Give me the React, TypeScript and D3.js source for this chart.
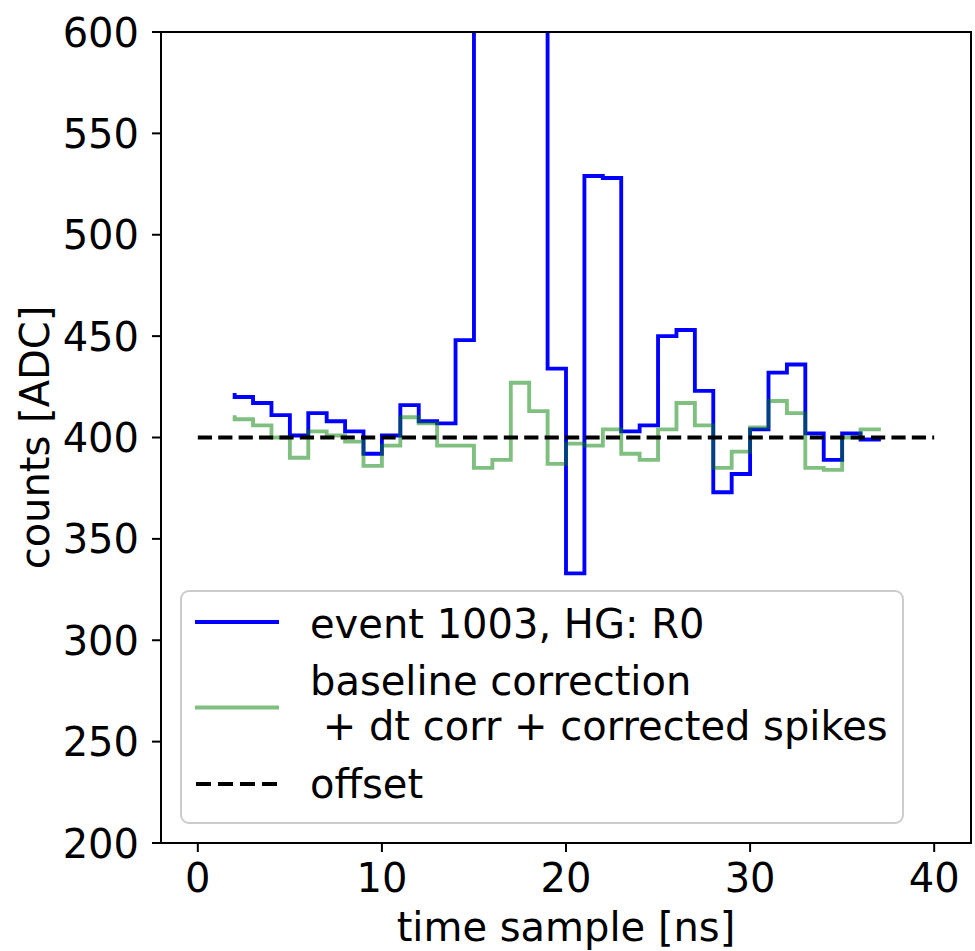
import React from "react";
import * as d3 from "d3";

// ---- data ----
const timeSamples = [2,3,4,5,6,7,8,9,10,11,12,13,14,15,16,17,18,19,20,21,22,23,24,25,26,27,28,29,30,31,32,33,34,35,36,37];
const rawCounts = [421,420,417,411,401,412,408,403,392,401,416,408,407,448,700,760,740,680,434,333,529,528,403,406,450,453,423,373,382,404,432,436,402,389,402,399];
const correctedCounts = [410,409,406,400,390,403,401,398,386,396,410,407,396,396,385,389,427,413,387,397,396,404,392,389,404,417,406,385,393,405,418,412,385,384,400,404];
const offsetX = [0, 40];
const offsetY = [400, 400];
const xTicks = [0, 10, 20, 30, 40];
const yTicks = [200, 250, 300, 350, 400, 450, 500, 550, 600];
const legendLabels = ["event 1003, HG: R0", ["baseline correction", " + dt corr + corrected spikes"], "offset"];

const W = 975, H = 951;
const L = 161, R = 971, T = 32, B = 843;
const FONT = "DejaVu Sans, sans-serif";
const FS = 40;

export default function App() {
  const x = d3.scaleLinear().domain([-2, 42]).range([L, R]);
  const y = d3.scaleLinear().domain([200, 600]).range([B, T]);
  const stepLine = d3.line<[number, number]>().x(d => x(d[0])).y(d => y(d[1])).curve(d3.curveStepBefore);
  const straight = d3.line<[number, number]>().x(d => x(d[0])).y(d => y(d[1]));
  const rawPts = timeSamples.map((t, i) => [t, rawCounts[i]] as [number, number]);
  const corrPts = timeSamples.map((t, i) => [t, correctedCounts[i]] as [number, number]);
  const offPts = offsetX.map((t, i) => [t, offsetY[i]] as [number, number]);
  const lw = 3.85;
  const dash = "14.2,6.2";

  return (
    <svg width={W} height={H} style={{ position: "absolute", left: 0, top: 0, background: "#fff" }} fontFamily={FONT}>
      <defs>
        <clipPath id="plotclip">
          <rect x={L} y={T} width={R - L} height={B - T} />
        </clipPath>
      </defs>
      <rect x={0} y={0} width={W} height={H} fill="#fff" />
      <g clipPath="url(#plotclip)">
        <path d={stepLine(rawPts) || ""} fill="none" stroke="#0000ff" strokeWidth={lw} strokeLinejoin="miter" strokeLinecap="square" />
        <path d={stepLine(corrPts) || ""} fill="none" stroke="#008000" strokeOpacity={0.5} strokeWidth={lw} strokeLinecap="square" />
        <path d={straight(offPts) || ""} fill="none" stroke="#000" strokeWidth={lw} strokeDasharray={dash} />
      </g>
      {/* spines */}
      <rect x={L} y={T} width={R - L} height={B - T} fill="none" stroke="#000" strokeWidth={2} />
      {/* y ticks */}
      {yTicks.map(v => (
        <g key={"y" + v}>
          <line x1={L - 9} x2={L} y1={y(v)} y2={y(v)} stroke="#000" strokeWidth={2} />
          <text x={L - 22} y={y(v) + 14.6} textAnchor="end" fontSize={FS} fill="#000">{v}</text>
        </g>
      ))}
      {/* x ticks */}
      {xTicks.map(v => (
        <g key={"x" + v}>
          <line x1={x(v)} x2={x(v)} y1={B} y2={B + 9} stroke="#000" strokeWidth={2} />
          <text x={x(v)} y={892} textAnchor="middle" fontSize={FS} fill="#000">{v}</text>
        </g>
      ))}
      <text x={(L + R) / 2} y={941} textAnchor="middle" fontSize={FS} fill="#000">time sample [ns]</text>
      <text transform={`translate(49,${(T + B) / 2}) rotate(-90)`} textAnchor="middle" fontSize={FS} fill="#000">counts [ADC]</text>
      {/* legend */}
      <g>
        <rect x={181} y={591} width={722} height={232} rx={8} ry={8} fill="#fff" fillOpacity={0.8} stroke="#cccccc" strokeWidth={2} />
        <line x1={195} x2={279} y1={622} y2={622} stroke="#0000ff" strokeWidth={lw} />
        <text x={310} y={638} fontSize={FS} fill="#000">{legendLabels[0] as string}</text>
        <line x1={195} x2={279} y1={707.5} y2={707.5} stroke="#008000" strokeOpacity={0.5} strokeWidth={lw} />
        <text x={310} y={695} fontSize={FS} fill="#000" style={{ whiteSpace: "pre" }}>{(legendLabels[1] as string[])[0]}</text>
        <text x={310} y={740} fontSize={FS} fill="#000" style={{ whiteSpace: "pre" }} xmlSpace="preserve">{(legendLabels[1] as string[])[1]}</text>
        <line x1={196} x2={277} y1={784} y2={784} stroke="#000" strokeWidth={lw} strokeDasharray="15,7" />
        <text x={310} y={798} fontSize={FS} fill="#000">{legendLabels[2] as string}</text>
      </g>
    </svg>
  );
}
